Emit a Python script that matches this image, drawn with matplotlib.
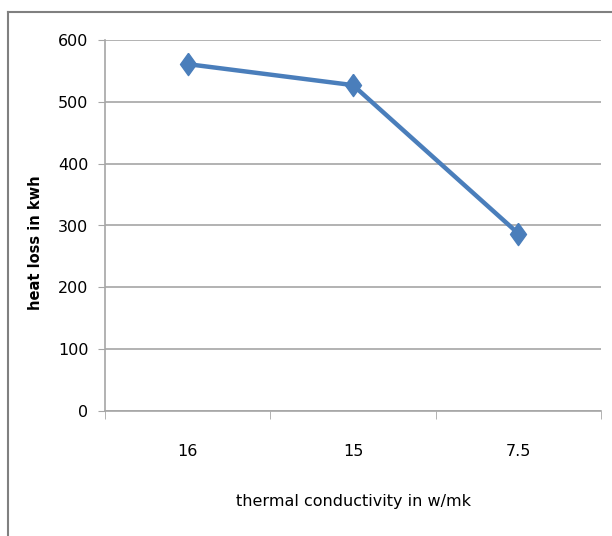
import matplotlib
matplotlib.use('Agg')
import matplotlib.pyplot as plt
from matplotlib.lines import Line2D

# data
conductivity = ['16', '15', '7.5']
heat_loss = [561, 527, 287]
y_ticks = [0, 100, 200, 300, 400, 500, 600]

plt.rcParams['font.family'] = ['DejaVu Sans']

fig = plt.figure(figsize=(6.12, 5.36), dpi=100)
W, H = 612, 536
ax = fig.add_axes([105 / W, (H - 411) / H, (601 - 105) / W, (411 - 40) / H])

# Excel's diamond is a little taller than wide
diamond = [(0, 1), (0.72, 0), (0, -1), (-0.72, 0), (0, 1)]

x = list(range(len(conductivity)))
ax.plot(x, heat_loss, color='#4a7ebb', lw=3.2, marker=diamond, ms=16,
        markeredgecolor='#4a7ebb', zorder=3)

ax.set_xlim(-0.5, len(conductivity) - 0.5)
ax.set_ylim(0, 600)
ax.set_yticks(y_ticks)
ax.set_yticklabels([str(v) for v in y_ticks], fontsize=11.5)
ax.yaxis.grid(True, color='#a6a6a6', lw=1.2)
ax.set_axisbelow(True)

# category labels sit between the tick marks, like Excel
ax.set_xticks(x)
ax.set_xticklabels(conductivity, fontsize=11.5)
ax.tick_params(axis='x', length=0, pad=24)
ax.set_xticks([i + 0.5 for i in range(-1, len(conductivity))], minor=True)
ax.tick_params(axis='x', which='minor', length=6, color='#a6a6a6')
ax.tick_params(axis='y', length=5, color='#a6a6a6', pad=7)

for s in ['top', 'right']:
    ax.spines[s].set_visible(False)
for s in ['left', 'bottom']:
    ax.spines[s].set_color('#a6a6a6')
    ax.spines[s].set_linewidth(1.2)

ax.set_xlabel('thermal conductivity in w/mk', fontsize=11.5, labelpad=25)
ax.set_ylabel('heat loss in kwh', fontsize=10.5, fontweight='bold')
ax.yaxis.set_label_coords(-62 / 496, (411 - 243) / 371)

# outer chart frame
fig.add_artist(Line2D([8 / W, 8 / W], [0, 1 - 12 / H], color='#808080', lw=1.5))
fig.add_artist(Line2D([8 / W, 1], [1 - 12 / H, 1 - 12 / H], color='#808080', lw=1.5))

fig.savefig('out.png', dpi=100)
